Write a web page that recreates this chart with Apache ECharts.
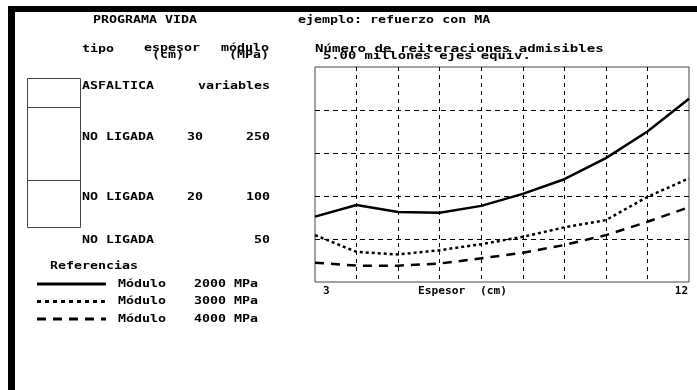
<!DOCTYPE html>
<html>
<head>
<meta charset="utf-8">
<script src="https://cdn.jsdelivr.net/npm/echarts@6/dist/echarts.min.js"></script>
<style>
html,body{margin:0;padding:0;background:#fff;}
#c{width:697px;height:390px;}
</style>
</head>
<body>
<div id="c"></div>
<script>
// Data
const espesores = [3, 4, 5, 6, 7, 8, 9, 10, 11, 12];
const modulo2000 = [1.52, 1.79, 1.63, 1.61, 1.77, 2.05, 2.39, 2.88, 3.50, 4.26];
const modulo3000 = [1.09, 0.70, 0.64, 0.74, 0.88, 1.05, 1.27, 1.44, 1.98, 2.41];
const modulo4000 = [0.45, 0.38, 0.38, 0.43, 0.55, 0.68, 0.86, 1.09, 1.40, 1.74];
const xTickLabels = [3, 12];
const seriesNames = ['Módulo 2000 MPa', 'Módulo 3000 MPa', 'Módulo 4000 MPa'];
const legendModulo = ['Módulo', 'Módulo', 'Módulo'];
const legendValues = ['2000 MPa', '3000 MPa', '4000 MPa'];
const layerTipo = ['ASFALTICA', 'NO LIGADA', 'NO LIGADA', 'NO LIGADA'];
const layerEspesor = ['', '30', '20', ''];
const layerModulo = ['variables', '250', '100', '50'];

const FONT = 'bold 10px "DejaVu Sans Mono"';
const SX = 1.33;
function txt(x, y, s, align, sx) {
  return {
    type: 'text', x: x, y: y, scaleX: sx || SX, scaleY: 1, z: 10,
    style: { text: s, font: FONT, fill: '#000', align: align || 'left', verticalAlign: 'middle' }
  };
}
function hline(x1, x2, y, w, dash, color) {
  return {
    type: 'line', z: 10,
    shape: { x1: x1, y1: y, x2: x2, y2: y },
    style: { stroke: color || '#000', lineWidth: w, lineDash: dash || null, lineCap: 'butt' }
  };
}
function rect(x, y, w, h) {
  return { type: 'rect', z: 10, shape: { x: x, y: y, width: w, height: h },
    style: { fill: 'none', stroke: '#444', lineWidth: 1 } };
}

const graphics = [
  { type: 'rect', z: 20, shape: { x: 8, y: 6, width: 689, height: 6 }, style: { fill: '#000' } },
  { type: 'rect', z: 20, shape: { x: 8, y: 6, width: 7, height: 384 }, style: { fill: '#000' } },
  txt(93, 20, 'PROGRAMA VIDA'),
  txt(298, 20, 'ejemplo: refuerzo con MA'),
  txt(82, 49, 'tipo'),
  txt(144, 48, 'espesor'),
  txt(152, 55, '(cm)'),
  txt(221, 48, 'módulo'),
  txt(229, 55, '(MPa)'),
  txt(315, 49, 'Número de reiteraciones admisibles', 'left', 1.41),
  txt(323, 56, '5.00 millones ejes equiv.', 'left', 1.38),
  rect(27.5, 78.5, 53, 29),
  rect(27.5, 107.5, 53, 73),
  rect(27.5, 180.5, 53, 47),
  txt(50, 266, 'Referencias'),
  txt(418, 291, 'Espesor', 'left', 1.12),
  txt(480, 291, '(cm)', 'left', 1.12)
];
const layerY = [86, 137, 197, 240];
for (let i = 0; i < layerTipo.length; i++) {
  graphics.push(txt(82, layerY[i], layerTipo[i]));
  if (layerEspesor[i]) graphics.push(txt(187, layerY[i], layerEspesor[i]));
  graphics.push(txt(270, layerY[i], layerModulo[i], 'right'));
}
const legY = [284, 301.5, 319];
const legDash = [null, [4, 4], [9, 7]];
for (let i = 0; i < 3; i++) {
  graphics.push(hline(37, 106, legY[i], 3, legDash[i]));
  graphics.push(txt(118, legY[i], legendModulo[i]));
  graphics.push(txt(194, legY[i], legendValues[i]));
}

function pairs(ys) { return espesores.map((x, i) => [x, ys[i]]); }

const chart = echarts.init(document.getElementById('c'), null, { renderer: 'canvas' });
chart.setOption({
  animation: false,
  backgroundColor: '#fff',
  grid: { left: 315, top: 67, right: 8, bottom: 108, show: true, borderColor: '#444', borderWidth: 1, backgroundColor: 'transparent' },
  xAxis: {
    type: 'value', min: 3, max: 12, interval: 1,
    axisLine: { show: false }, axisTick: { show: false },
    splitLine: { show: true, showMinLine: false, showMaxLine: false, lineStyle: { color: '#000', width: 1, type: [4, 4] } },
    axisLabel: {
      show: true, margin: 4, color: '#000', fontFamily: 'DejaVu Sans Mono', fontWeight: 'bold', fontSize: 11,
      alignMinLabel: 'left', alignMaxLabel: 'right', padding: [0, 1, 0, 8],
      formatter: v => (xTickLabels.indexOf(v) >= 0 ? String(v) : '')
    }
  },
  yAxis: {
    type: 'value', min: 0, max: 5, interval: 1,
    axisLine: { show: false }, axisTick: { show: false }, axisLabel: { show: false },
    splitLine: { show: true, showMinLine: false, showMaxLine: false, lineStyle: { color: '#000', width: 1, type: [5, 4] } }
  },
  series: [
    { name: seriesNames[0], type: 'line', data: pairs(modulo2000), showSymbol: false, smooth: false,
      lineStyle: { color: '#000', width: 2.5, type: 'solid' } },
    { name: seriesNames[1], type: 'line', data: pairs(modulo3000), showSymbol: false,
      lineStyle: { color: '#000', width: 2.5, type: [3, 3], cap: 'butt' } },
    { name: seriesNames[2], type: 'line', data: pairs(modulo4000), showSymbol: false,
      lineStyle: { color: '#000', width: 2.5, type: [9, 7], cap: 'butt' } }
  ],
  graphic: graphics
});
</script>
</body>
</html>
